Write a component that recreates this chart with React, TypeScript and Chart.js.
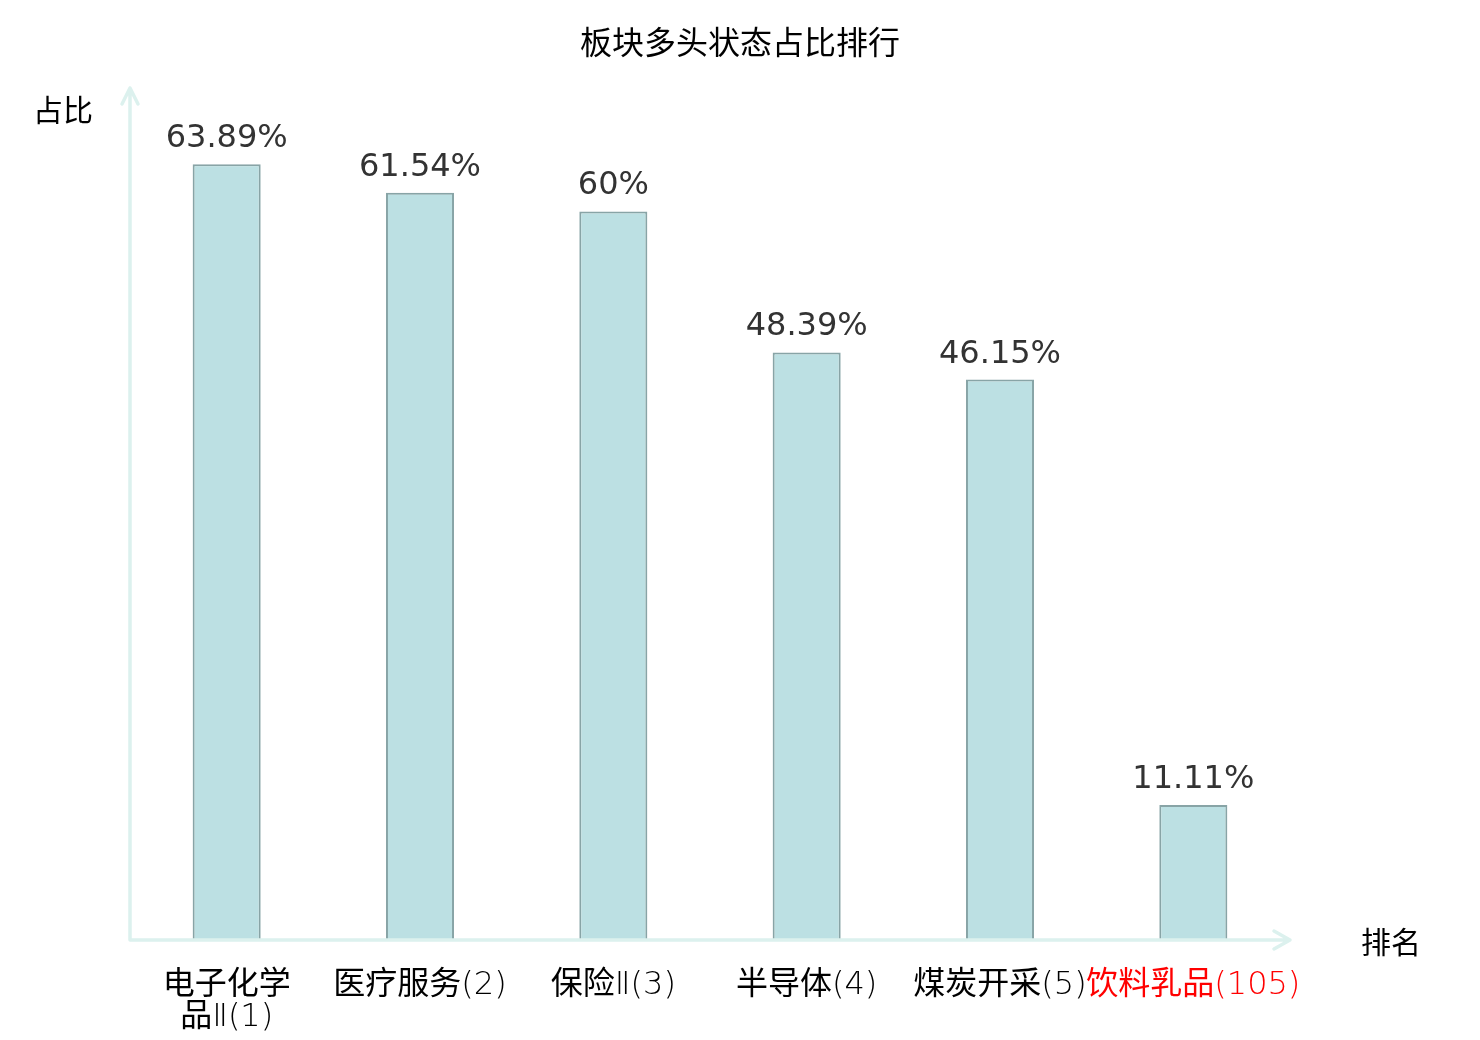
import { useEffect, useRef } from 'react'
import { Chart, registerables } from 'chart.js'

Chart.register(...registerables)

const TITLE = '板块多头状态占比排行'
const Y_NAME = '占比'
const X_NAME = '排名'
const CATEGORIES: (string | string[])[] = [
  ['电子化学', '品Ⅱ(1)'],
  '医疗服务(2)',
  '保险Ⅱ(3)',
  '半导体(4)',
  '煤炭开采(5)',
  '饮料乳品(105)',
]
const RATIOS = [63.89, 61.54, 60, 48.39, 46.15, 11.11]
const HIGHLIGHT_INDEX = 5

const CJK = '"Noto Sans CJK SC", "Noto Sans", sans-serif'
const AXIS_COLOR = '#dcf1ee'

const decor = {
  id: 'decor',
  afterDatasetsDraw(chart: Chart) {
    const { ctx, chartArea: a } = chart
    ctx.save()

    // axes with arrows
    ctx.strokeStyle = AXIS_COLOR
    ctx.lineWidth = 3.5
    ctx.lineCap = 'round'
    ctx.lineJoin = 'round'
    ctx.beginPath()
    ctx.moveTo(a.left, a.bottom)
    ctx.lineTo(a.left, a.top - 2)
    ctx.moveTo(a.left - 8, a.top + 14)
    ctx.lineTo(a.left, a.top - 2)
    ctx.lineTo(a.left + 8, a.top + 14)
    ctx.moveTo(a.left, a.bottom)
    ctx.lineTo(a.right, a.bottom)
    ctx.moveTo(a.right - 16, a.bottom - 9)
    ctx.lineTo(a.right, a.bottom)
    ctx.lineTo(a.right - 16, a.bottom + 9)
    ctx.stroke()

    // value labels
    const meta = chart.getDatasetMeta(0)
    ctx.fillStyle = '#333'
    ctx.font = '32px "DejaVu Sans", sans-serif'
    ctx.textAlign = 'center'
    ctx.textBaseline = 'alphabetic'
    meta.data.forEach((bar: any, i: number) => {
      ctx.fillText(`${RATIOS[i]}%`, bar.x, bar.y - 17)
    })

    // title and axis names
    ctx.fillStyle = '#000'
    ctx.textBaseline = 'middle'
    ctx.font = `32px ${CJK}`
    ctx.fillText(TITLE, chart.width / 2, 42)
    ctx.font = `30px ${CJK}`
    ctx.fillText(Y_NAME, 63, 110)
    ctx.fillText(X_NAME, 1391, a.bottom + 2)
    ctx.restore()
  },
}

export default function App() {
  const canvasRef = useRef<HTMLCanvasElement>(null)
  const chartRef = useRef<Chart | null>(null)

  useEffect(() => {
    if (!canvasRef.current) return
    if (chartRef.current) chartRef.current.destroy()

    chartRef.current = new Chart(canvasRef.current, {
      type: 'bar',
      data: {
        labels: CATEGORIES,
        datasets: [{
          data: RATIOS,
          backgroundColor: '#bce0e3',
          borderColor: '#88a4a6',
          borderWidth: 2,
          borderSkipped: 'start',
          barPercentage: 0.352,
          categoryPercentage: 1,
        }],
      },
      options: {
        animation: false,
        responsive: true,
        maintainAspectRatio: false,
        devicePixelRatio: 1,
        layout: { padding: { left: 130, right: 190, top: 90, bottom: 0 } },
        scales: {
          x: {
            grid: { display: false, drawTicks: false },
            border: { display: false },
            ticks: {
              padding: 30,
              maxRotation: 0,
              autoSkip: false,
              color: (c: any) => (c.index === HIGHLIGHT_INDEX ? '#ff0000' : '#000'),
              font: { family: `"DejaVu Sans Light", ${CJK}`, size: 32, lineHeight: '32px' },
            },
            afterFit: (scale: any) => { scale.height = 100 },
          },
          y: {
            display: false,
            min: 0,
            max: 70,
          },
        },
        plugins: {
          legend: { display: false },
          tooltip: { enabled: false },
          title: { display: false },
        },
      },
      plugins: [decor],
    })

    return () => { chartRef.current?.destroy() }
  }, [])

  return (
    <div style={{ position: 'fixed', left: 0, top: 0, width: '1480px', height: '1040px', background: '#fff' }}>
      <canvas ref={canvasRef} />
    </div>
  )
}
